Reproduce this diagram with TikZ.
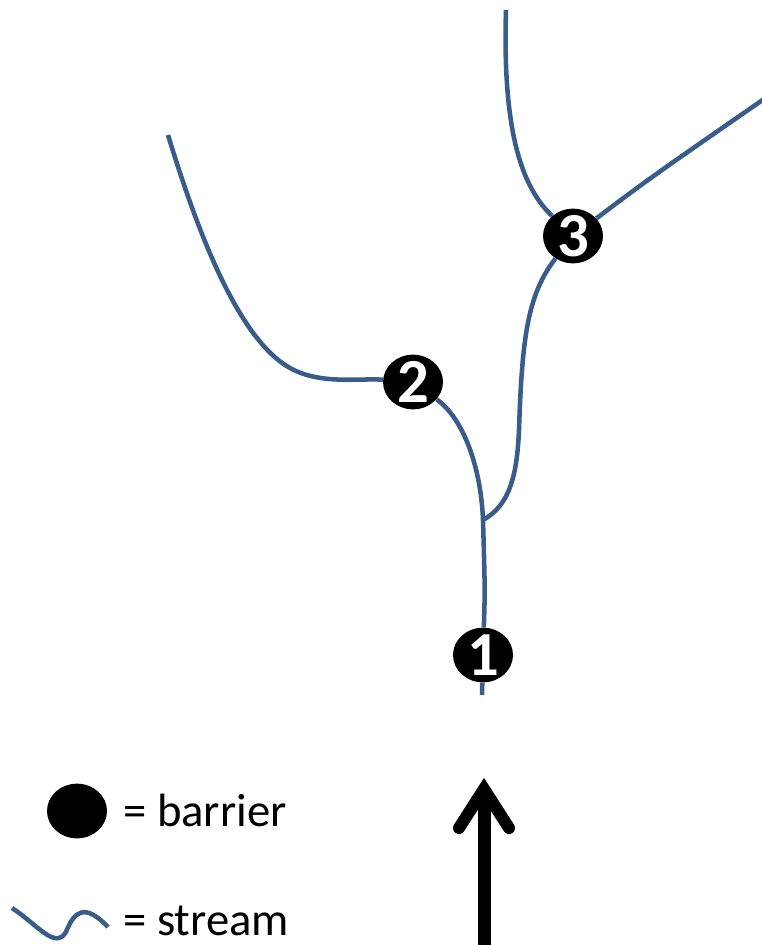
\documentclass[tikz,border=0pt]{standalone}
\usepackage{fontspec}
\setmainfont{Carlito}
\usetikzlibrary{shapes.geometric, arrows}
\definecolor{streamblue}{HTML}{385D8A}

\begin{document}
\begin{tikzpicture}[x=0.75pt, y=-0.75pt,
		barrier/.style={fill=black, ellipse, inner sep=-4pt, minimum width=45pt, minimum height=41pt, text=white, font=\fontsize{47}{47}\selectfont\bfseries},
		stream/.style={draw=streamblue, line width=3.4pt}]
			\useasboundingbox (0,0) rectangle (762,945);
			% barriers
			\node [barrier] (b1) at (483,655) {1};
			\node [barrier] (b2) at (413,382) {2};
			\node [barrier] (b3) at (573,236) {3};
			% stream network
			\coordinate (mouth) at (482,695);
			\coordinate (junction) at (483,520);
			\coordinate (src2) at (168,135);
			\coordinate (src3a) at (506,10);
			\coordinate (src3b) at (764,99);
			\draw [stream] (b1) -- (mouth) (b1) .. controls (485,590) .. (junction);
			\draw [stream] (b2) .. controls (465,420) and (481,470) .. (junction);
			\draw [stream] (src2) .. controls (200,240) and (240,340) .. (290,368) .. controls (320,385) and (360,378) .. (b2);
			\draw [stream] (junction) .. controls (510,505) and (517,475) .. (519,430) .. controls (522,340) and (527,295) .. (b3);
			\draw [stream] (b3) .. controls (525,190) and (502,140) .. (src3a);
			\draw [stream] (b3) .. controls (650,178) .. (src3b);
			% legend
			\node [barrier] (legbarrier) at (77,811) {};
			\node [anchor=base west, inner sep=0pt, font=\fontsize{35}{42}\selectfont] (legbarriertext) at (123,826) {= barrier};
			\coordinate (wavestart) at (12,908);
			\coordinate (waveend) at (108,927);
			\draw [stream] (wavestart) .. controls (38,925) and (55,950) .. (66,932) .. controls (74,912) and (84,902) .. (waveend);
			\node [anchor=base west, inner sep=0pt, font=\fontsize{35}{42}\selectfont] (legstreamtext) at (123,935) {= stream};
			% flow direction
			\coordinate (flowtail) at (484,945);
			\coordinate (flowhead) at (484,789);
			\draw [line width=9.75pt] (flowtail) -- (484,800);
			\draw [line width=9pt, line cap=round, miter limit=20] (459,828) -- (flowhead) -- (509,828);
		\end{tikzpicture}
\end{document}
